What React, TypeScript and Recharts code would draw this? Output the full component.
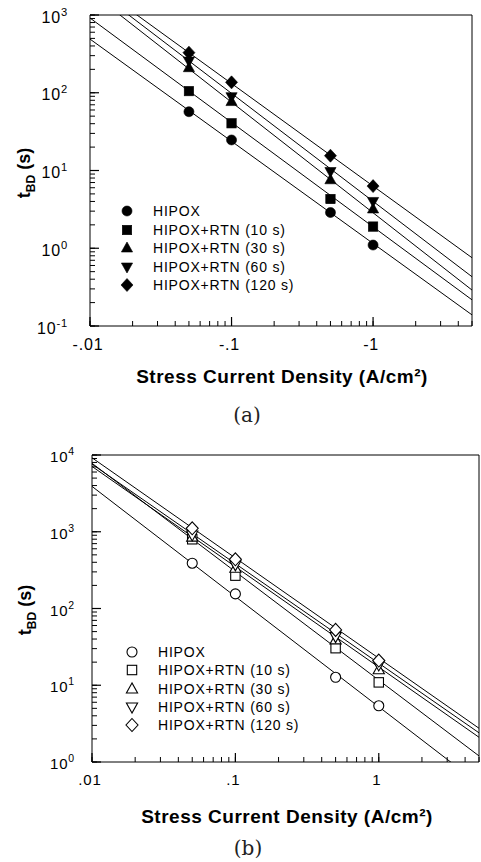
import React from 'react';
import { ComposedChart, Line, XAxis, YAxis } from 'recharts';

const seriesNames = ['HIPOX', 'HIPOX+RTN (10 s)', 'HIPOX+RTN (30 s)', 'HIPOX+RTN (60 s)', 'HIPOX+RTN (120 s)'];
const markerKinds = ['circle', 'square', 'triangle', 'triangleDown', 'diamond'];

// measured stress current densities (A/cm2) and the span of the fitted lines
const stressJ = [0.05, 0.1, 0.5, 1];
const fitJ = [0.01, 5];

// (a) tBD (s), filled symbols
const tbdA_hipox = [57, 24.7, 2.88, 1.1];
const tbdA_rtn10 = [105, 40.5, 4.3, 1.9];
const tbdA_rtn30 = [210, 77, 7.6, 3.2];
const tbdA_rtn60 = [256, 89, 9.7, 4.0];
const tbdA_rtn120 = [328, 136, 15.5, 6.3];
// fitted line values at the ends of fitJ
const fitA_hipox = [490, 0.139];
const fitA_rtn10 = [915, 0.217];
const fitA_rtn30 = [2000, 0.29];
const fitA_rtn60 = [2400, 0.43];
const fitA_rtn120 = [2740, 0.755];

// (b) tBD (s), open symbols
const tbdB_hipox = [389, 155, 12.7, 5.4];
const tbdB_rtn10 = [798, 268, 30.4, 10.9];
const tbdB_rtn30 = [850, 334, 39, 15.9];
const tbdB_rtn60 = [908, 370, 43, 18.4];
const tbdB_rtn120 = [1110, 438, 52.6, 21];
const fitB_hipox = [3900, 0.52];
const fitB_rtn10 = [7800, 1.2];
const fitB_rtn30 = [7100, 2.1];
const fitB_rtn60 = [7600, 2.4];
const fitB_rtn120 = [9200, 2.75];

const xTicks = [0.01, 0.02, 0.03, 0.04, 0.05, 0.06, 0.07, 0.08, 0.09, 0.1, 0.2, 0.3, 0.4, 0.5, 0.6, 0.7, 0.8, 0.9, 1, 2, 3, 4, 5];
const xMajor = [0.01, 0.1, 1];
const xLabelsA = ['-.01', '-.1', '-1'];
const xLabelsB = ['.01', '.1', '1'];

const yTicksA = [0.1, 0.2, 0.3, 0.4, 0.5, 0.6, 0.7, 0.8, 0.9, 1, 2, 3, 4, 5, 6, 7, 8, 9, 10, 20, 30, 40, 50, 60, 70, 80, 90, 100, 200, 300, 400, 500, 600, 700, 800, 900, 1000];
const yMajorA = [0.1, 1, 10, 100, 1000];
const yExpA = ['-1', '0', '1', '2', '3'];

const yTicksB = [1, 2, 3, 4, 5, 6, 7, 8, 9, 10, 20, 30, 40, 50, 60, 70, 80, 90, 100, 200, 300, 400, 500, 600, 700, 800, 900, 1000, 2000, 3000, 4000, 5000, 6000, 7000, 8000, 9000, 10000];
const yMajorB = [1, 10, 100, 1000, 10000];
const yExpB = ['0', '1', '2', '3', '4'];

const FONT = "'Liberation Sans', Arial, sans-serif";
const MINOR = 5;

const toPoints = (xs: number[], ys: number[]) => xs.map((x, i) => ({ x, y: ys[i] }));
const majorIndex = (majors: number[], v: number) => majors.findIndex((m) => Math.abs(m - v) / m < 1e-6);

function Marker({ cx, cy, kind, filled }: any) {
  const fill = filled ? '#000' : '#fff';
  const sw = filled ? 0.6 : 1.1;
  if (cx == null || cy == null) return null;
  switch (kind) {
    case 'circle':
      return <circle cx={cx} cy={cy} r={5} fill={fill} stroke="#000" strokeWidth={sw} />;
    case 'square':
      return <rect x={cx - 4.7} y={cy - 4.7} width={9.4} height={9.4} fill={fill} stroke="#000" strokeWidth={sw} />;
    case 'triangle':
      return <polygon points={`${cx},${cy - 6} ${cx - 5.6},${cy + 4} ${cx + 5.6},${cy + 4}`} fill={fill} stroke="#000" strokeWidth={sw} />;
    case 'triangleDown':
      return <polygon points={`${cx},${cy + 6} ${cx - 5.6},${cy - 4} ${cx + 5.6},${cy - 4}`} fill={fill} stroke="#000" strokeWidth={sw} />;
    default:
      return <polygon points={`${cx},${cy - 6.5} ${cx + 6},${cy} ${cx},${cy + 6.5} ${cx - 6},${cy}`} fill={fill} stroke="#000" strokeWidth={sw} />;
  }
}

// decade labels with a longer inward mark; the short marks come from the axis tickLine
function makeLabel(side: string, majors: number[], labels: string[], dy: number, size: number, gap: number) {
  return (props: any) => {
    const x = Number(props.x);
    const y = Number(props.y);
    const mi = majorIndex(majors, Number(props.payload.value));
    if (mi < 0) return <g />;
    if (side === 'bottom') {
      return (
        <g>
          <line x1={x} x2={x} y1={y} y2={y - 9} stroke="#000" strokeWidth={1.2} />
          <text x={x - 2} y={y + dy} textAnchor="middle" fontFamily={FONT} fontSize={size} letterSpacing={0.8} fill="#000">
            {labels[mi]}
          </text>
        </g>
      );
    }
    return (
      <g>
        <line x1={x} x2={x + 9} y1={y} y2={y} stroke="#000" strokeWidth={1.2} />
        <text x={x - gap} y={y + dy} textAnchor="end" fontFamily={FONT} fontSize={size} letterSpacing={0.8} fill="#000">
          10
          <tspan dy={-7} fontSize={size * 0.7}>{labels[mi]}</tspan>
        </text>
      </g>
    );
  };
}

const xTickA = makeLabel('bottom', xMajor, xLabelsA, 24, 16, 0);
const yTickA = makeLabel('left', yMajorA, yExpA, 7.5, 16, 22);
const xTickB = makeLabel('bottom', xMajor, xLabelsB, 23, 15, 0);
const yTickB = makeLabel('left', yMajorB, yExpB, 7, 15, 17);

function Panel({ top, height, margin, yAxisWidth, xAxisHeight, yDomain, yTicks, xTick, yTick, data, filled }: any) {
  return (
    <div style={{ position: 'absolute', left: 0, top }}>
      <ComposedChart width={481} height={height} margin={margin}>
        <XAxis xAxisId="b" dataKey="x" type="number" scale="log" domain={[0.01, 5]} allowDataOverflow ticks={xTicks} interval={0}
          height={xAxisHeight} tickSize={-MINOR} tickMargin={MINOR} stroke="#000" tick={xTick} />
        <XAxis xAxisId="t" dataKey="x" orientation="top" type="number" scale="log" domain={[0.01, 5]} allowDataOverflow ticks={xTicks} interval={0}
          height={1} tickSize={-MINOR} tickMargin={MINOR} stroke="#000" tick={false} />
        <YAxis yAxisId="l" dataKey="y" type="number" scale="log" domain={yDomain} allowDataOverflow ticks={yTicks} interval={0}
          width={yAxisWidth} tickSize={-MINOR} tickMargin={MINOR} stroke="#000" tick={yTick} />
        <YAxis yAxisId="r" dataKey="y" orientation="right" type="number" scale="log" domain={yDomain} allowDataOverflow ticks={yTicks} interval={0}
          width={1} tickSize={-MINOR} tickMargin={MINOR} stroke="#000" tick={false} />
        {/* invisible copy so the mirrored frame axes have a series */}
        <Line xAxisId="t" yAxisId="r" data={data[0].fit} dataKey="y" stroke="none" dot={false} activeDot={false} isAnimationActive={false} />
        {data.map((s: any) => (
          <Line
            key={'fit' + s.name}
            xAxisId="b"
            yAxisId="l"
            data={s.fit}
            dataKey="y"
            type="linear"
            stroke="#000"
            strokeWidth={1}
            dot={false}
            activeDot={false}
            isAnimationActive={false}
          />
        ))}
        {data.map((s: any) => (
          <Line
            key={'pts' + s.name}
            xAxisId="b"
            yAxisId="l"
            data={s.points}
            dataKey="y"
            stroke="none"
            activeDot={false}
            isAnimationActive={false}
            dot={(p: any) => <Marker key={p.index} cx={p.cx} cy={p.cy} kind={s.kind} filled={filled} />}
          />
        ))}
      </ComposedChart>
    </div>
  );
}

function LegendBlock({ x, y, step, filled }: any) {
  return (
    <>
      {seriesNames.map((name, i) => (
        <React.Fragment key={name}>
          <svg width={16} height={16} style={{ position: 'absolute', left: x - 8, top: y + i * step - 8 }}>
            <Marker cx={8} cy={8} kind={markerKinds[i]} filled={filled} />
          </svg>
          <div style={{ position: 'absolute', left: x + 26, top: y + i * step - 9, font: `14px ${FONT}`, lineHeight: '18px', letterSpacing: 0.8, whiteSpace: 'nowrap', color: '#000' }}>
            {name}
          </div>
        </React.Fragment>
      ))}
    </>
  );
}

function YTitle({ cx, cy }: any) {
  return (
    <div style={{ position: 'absolute', left: cx - 40, top: cy - 12, width: 80, height: 24, transform: 'rotate(-90deg)', textAlign: 'center', font: `bold 18px ${FONT}`, lineHeight: '24px', whiteSpace: 'nowrap', color: '#000' }}>
      t<sub style={{ fontSize: 12 }}>BD</sub> (s)
    </div>
  );
}

function XTitle({ cx, top }: any) {
  return (
    <div style={{ position: 'absolute', left: cx - 200, top, width: 400, textAlign: 'center', font: `bold 19px ${FONT}`, lineHeight: '22px', letterSpacing: 0.5, whiteSpace: 'nowrap', color: '#000' }}>
      Stress Current Density (A/cm²)
    </div>
  );
}

function Caption({ cx, top, text }: any) {
  return (
    <div style={{ position: 'absolute', left: cx - 40, top, width: 80, textAlign: 'center', font: "20px 'DejaVu Serif', serif", lineHeight: '24px', color: '#222' }}>
      {text}
    </div>
  );
}

const build = (vals: number[][], fits: number[][]) =>
  seriesNames.map((name, i) => ({
    name,
    kind: markerKinds[i],
    points: toPoints(stressJ, vals[i]),
    fit: toPoints(fitJ, fits[i]),
  }));

export default function App() {
  const dataA = build(
    [tbdA_hipox, tbdA_rtn10, tbdA_rtn30, tbdA_rtn60, tbdA_rtn120],
    [fitA_hipox, fitA_rtn10, fitA_rtn30, fitA_rtn60, fitA_rtn120]
  );
  const dataB = build(
    [tbdB_hipox, tbdB_rtn10, tbdB_rtn30, tbdB_rtn60, tbdB_rtn120],
    [fitB_hipox, fitB_rtn10, fitB_rtn30, fitB_rtn60, fitB_rtn120]
  );
  return (
    <div style={{ position: 'absolute', left: 0, top: 0, width: 481, height: 862, background: '#fff' }}>
      <Panel
        top={0}
        height={430}
        margin={{ top: 14, right: 8, bottom: 0, left: 0 }}
        yAxisWidth={90}
        xAxisHeight={104}
        yDomain={[0.1, 1000]}
        yTicks={yTicksA}
        xTick={xTickA}
        yTick={yTickA}
        data={dataA}
        filled
      />
      <Panel
        top={430}
        height={432}
        margin={{ top: 24, right: 1, bottom: 0, left: 0 }}
        yAxisWidth={92}
        xAxisHeight={100}
        yDomain={[1, 10000]}
        yTicks={yTicksB}
        xTick={xTickB}
        yTick={yTickB}
        data={dataB}
        filled={false}
      />
      <LegendBlock x={127} y={211} step={18.5} filled />
      <LegendBlock x={132} y={652} step={18.3} filled={false} />
      <YTitle cx={24} cy={173} />
      <YTitle cx={25} cy={610} />
      <XTitle cx={282} top={366} />
      <XTitle cx={287} top={806} />
      <Caption cx={247} top={403} text="(a)" />
      <Caption cx={248} top={836} text="(b)" />
    </div>
  );
}
